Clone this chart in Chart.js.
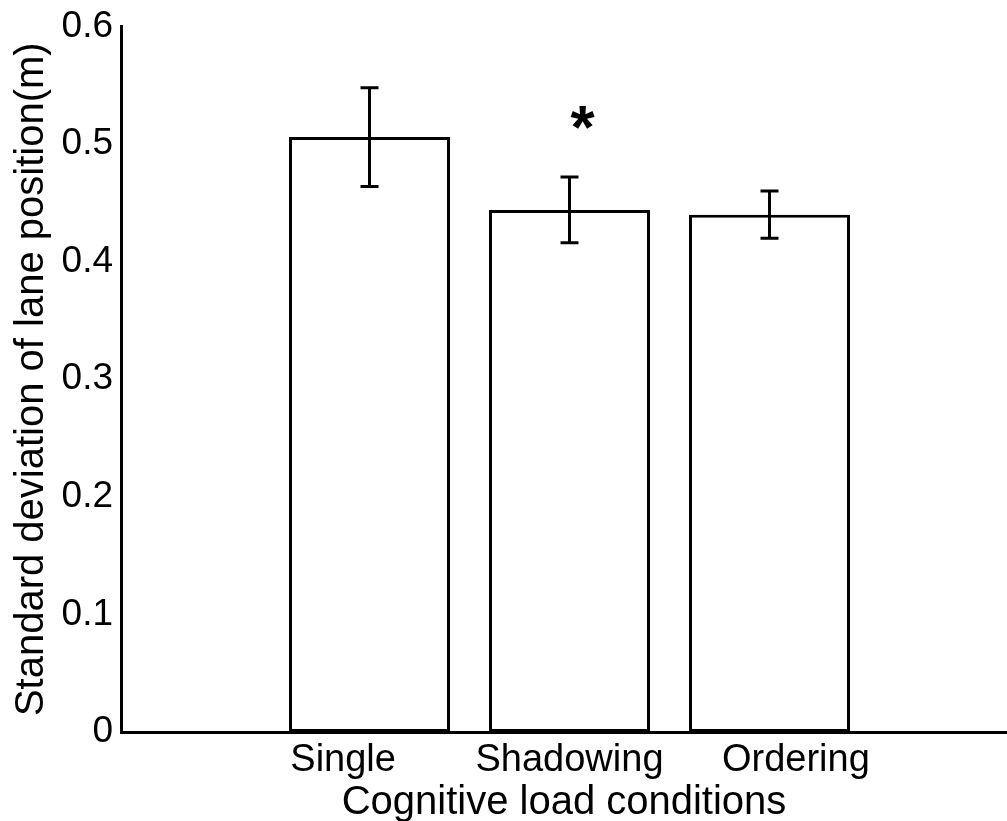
<!DOCTYPE html>
<html>
<head>
<meta charset="utf-8">
<script src="https://cdn.jsdelivr.net/npm/chart.js@4.4.1/dist/chart.umd.min.js"></script>
<style>
    body { margin: 0; background: #fff; }
    #wrap { width: 1007px; height: 821px; }
</style>
</head>
<body>
<div id="wrap"><canvas id="barChart"></canvas></div>
<script>
const categories = ['Single', 'Shadowing', 'Ordering']
const meanValues = [0.506, 0.444, 0.440]
const errValues = [0.042, 0.028, 0.020]
const sigMarks = ['', '*', '']
const yTicks = [0, 0.1, 0.2, 0.3, 0.4, 0.5, 0.6]
// the original tick strings carry some blank padding
const tickText = ['Single     ', 'Shadowing', '     Ordering']

const FONT = "'Liberation Sans', Arial, sans-serif"

// error bars + significance star, drawn from the chart scales
const errorBars = {
    id: 'errorBars',
    afterDatasetsDraw(chart) {
        const ctx = chart.ctx
        const y = chart.scales.y
        const meta = chart.getDatasetMeta(0)
        ctx.save()
        ctx.strokeStyle = '#000'
        ctx.lineWidth = 3
        meta.data.forEach((bar, i) => {
            const top = y.getPixelForValue(meanValues[i] + errValues[i])
            const bot = y.getPixelForValue(meanValues[i] - errValues[i])
            ctx.beginPath()
            ctx.moveTo(bar.x, top)
            ctx.lineTo(bar.x, bot)
            ctx.moveTo(bar.x - 9, top)
            ctx.lineTo(bar.x + 9, top)
            ctx.moveTo(bar.x - 9, bot)
            ctx.lineTo(bar.x + 9, bot)
            ctx.stroke()

            if (sigMarks[i]) {
                ctx.font = 'bold 62px ' + FONT
                ctx.fillStyle = '#000'
                ctx.textAlign = 'center'
                ctx.textBaseline = 'alphabetic'
                const m = ctx.measureText(sigMarks[i])
                const mid = (m.actualBoundingBoxAscent - m.actualBoundingBoxDescent) / 2
                ctx.fillText(sigMarks[i], bar.x + 13, top - 60 + mid)
            }
        })
        ctx.restore()
    }
}

const ctx = document.getElementById('barChart').getContext('2d')

new Chart(ctx, {
    type: 'bar',
    data: {
        datasets: [{
            data: meanValues.map((v, i) => ({ x: i + 1, y: v })),
            backgroundColor: '#fff',
            borderColor: '#000',
            borderWidth: 3,
            borderSkipped: false,
            barPercentage: 0.805,
            categoryPercentage: 1
        }]
    },
    options: {
        responsive: true,
        maintainAspectRatio: false,
        animation: false,
        layout: { padding: { top: 20, right: 0, left: 0, bottom: 0 } },
        plugins: {
            legend: { display: false },
            tooltip: { enabled: false }
        },
        scales: {
            x: {
                type: 'linear',
                min: -0.2425,
                max: 4.1875,
                offset: false,
                grid: { display: false, drawTicks: false },
                border: { display: true, color: '#000', width: 3 },
                afterBuildTicks: axis => {
                    axis.ticks = categories.map((c, i) => ({ value: i + 1 }))
                },
                afterFit: axis => { axis.height = 89 },
                ticks: {
                    color: '#000',
                    padding: 6,
                    autoSkip: false,
                    maxRotation: 0,
                    font: { family: FONT, size: 38 },
                    callback: v => tickText[v - 1]
                },
                title: {
                    display: true,
                    text: 'Cognitive load conditions',
                    color: '#000',
                    padding: { top: 0, bottom: -6 },
                    font: { family: FONT, size: 40 }
                }
            },
            y: {
                min: 0,
                max: 0.6,
                grid: { display: false, drawTicks: false },
                border: { display: true, color: '#000', width: 3 },
                afterBuildTicks: axis => {
                    axis.ticks = yTicks.map(v => ({ value: v }))
                },
                afterFit: axis => { axis.width = 121 },
                ticks: {
                    color: '#000',
                    padding: 8,
                    font: { family: FONT, size: 37, lineHeight: 1 },
                    callback: v => v === 0 ? '0' : v.toFixed(1)
                },
                title: {
                    display: true,
                    text: 'Standard deviation of lane position(m)',
                    color: '#000',
                    padding: { top: 8, bottom: 0 },
                    font: { family: FONT, size: 40 }
                }
            }
        }
    },
    plugins: [errorBars]
})
</script>
</body>
</html>
